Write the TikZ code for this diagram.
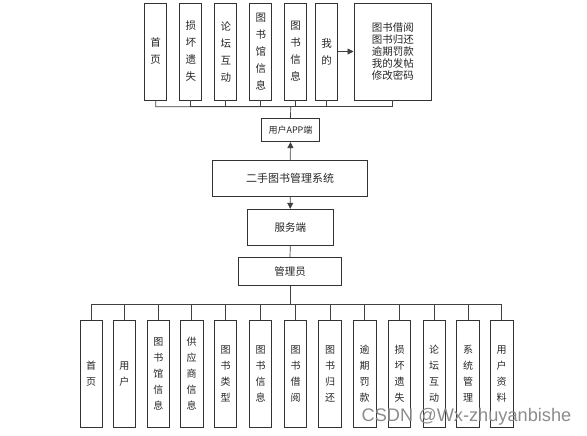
\documentclass[tikz,border=0pt]{standalone}
\usepackage{fontspec}
\newfontfamily\cjk{Noto Sans CJK SC}
\newfontfamily\wmfont{Liberation Sans}
\usetikzlibrary{arrows.meta}
\begin{document}
\begin{tikzpicture}[x=1pt,y=-1pt,
  box/.style={draw=black!80,line width=0.9pt,inner sep=0pt,text=black!85,align=center},
  topbox/.style={box,minimum width=22pt,minimum height=97pt,font=\cjk\fontsize{10.5}{17}\selectfont},
  botbox/.style={box,minimum width=22.5pt,minimum height=106.7pt,font=\cjk\fontsize{10}{16}\selectfont},
  midbox/.style={box,font=\cjk\fontsize{10.5}{12}\selectfont},
  link/.style={draw=black!75,line width=0.7pt},
  arr/.style={link,-{Triangle[length=6pt,width=6pt]}}]
  \useasboundingbox (0,0) rectangle (587,436);

  % user app side
  \node[topbox] (tShouye) at (155.7,51.5) {首\\页};
  \node[topbox] (tSunhuai) at (190.8,51.5) {损\\坏\\遗\\失};
  \node[topbox] (tLuntan) at (225.8,51.5) {论\\坛\\互\\动};
  \node[topbox] (tLibrary) at (260.8,51.5) {图\\书\\馆\\信\\息};
  \node[topbox] (tBookinfo) at (295.5,51.5) {图\\书\\信\\息};
  \node[topbox] (tMine) at (326.5,51.5) {我\\的};
  \node[box,minimum width=77.7pt,minimum height=97pt,font=\cjk\fontsize{10.5}{11.8}\selectfont]
    (tMineList) at (392.8,51.5) {图书借阅\\图书归还\\逾期罚款\\我的发帖\\修改密码};
  \draw[arr] (tMine.east) -- (tMineList.west);

  \node[midbox,minimum width=57.6pt,minimum height=22.7pt,font=\cjk\fontsize{9}{10}\selectfont]
    (app) at (290.5,130.3) {用户APP端};
  \coordinate (topbus) at (290.7,106.7);
  \draw[link] (tShouye.south) |- (topbus) -- (app.north);
  \draw[link] (tSunhuai.south) |- (topbus);
  \draw[link] (tLuntan.south) |- (topbus);
  \draw[link] (tLibrary.south) |- (topbus);
  \draw[link] (tBookinfo.south) |- (topbus);
  \draw[link] (tMine.south) |- (topbus);
  \draw[link] (tMineList.south) |- (topbus);

  % system core
  \node[midbox,minimum width=155pt,minimum height=36pt,font=\cjk\fontsize{11}{12}\selectfont]
    (sys) at (290.2,178.7) {二手图书管理系统};
  \node[midbox,minimum width=86pt,minimum height=36.4pt] (server) at (290.3,227.5) {服务端};
  \node[midbox,minimum width=103.4pt,minimum height=27.7pt] (admin) at (290,271.2) {管理员};
  \draw[arr] (sys.north) -- (app.south);
  \draw[arr] (sys.south) -- (server.north);
  \draw[link] (server.south) -- (admin.north);

  % admin side
  \node[botbox] (bShouye) at (91.2,374) {首\\页};
  \node[botbox] (bUser) at (124.3,374) {用\\户};
  \node[botbox] (bLibrary) at (158.3,374) {图\\书\\馆\\信\\息};
  \node[botbox] (bSupplier) at (191.7,374) {供\\应\\商\\信\\息};
  \node[botbox] (bType) at (225.5,374) {图\\书\\类\\型};
  \node[botbox] (bBookinfo) at (260.5,374) {图\\书\\信\\息};
  \node[botbox] (bBorrow) at (295.5,374) {图\\书\\借\\阅};
  \node[botbox] (bReturn) at (330,374) {图\\书\\归\\还};
  \node[botbox] (bFine) at (364.7,374) {逾\\期\\罚\\款};
  \node[botbox] (bSunhuai) at (399.5,374) {损\\坏\\遗\\失};
  \node[botbox] (bLuntan) at (434.2,374) {论\\坛\\互\\动};
  \node[botbox] (bSystem) at (468,374) {系\\统\\管\\理};
  \node[botbox] (bProfile) at (501.7,374) {用\\户\\资\\料};
  \coordinate (botbus) at (290,304);
  \draw[link] (admin.south) -- (botbus);
  \draw[link] (botbus) -| (bShouye.north);
  \draw[link] (botbus) -| (bUser.north);
  \draw[link] (botbus) -| (bLibrary.north);
  \draw[link] (botbus) -| (bSupplier.north);
  \draw[link] (botbus) -| (bType.north);
  \draw[link] (botbus) -| (bBookinfo.north);
  \draw[link] (botbus) -| (bBorrow.north);
  \draw[link] (botbus) -| (bReturn.north);
  \draw[link] (botbus) -| (bFine.north);
  \draw[link] (botbus) -| (bSunhuai.north);
  \draw[link] (botbus) -| (bLuntan.north);
  \draw[link] (botbus) -| (bSystem.north);
  \draw[link] (botbus) -| (bProfile.north);

  \node[text=black!45,font=\wmfont\fontsize{18.2}{18.2}\selectfont,anchor=west,inner sep=0pt]
    (watermark) at (361.5,416.5) {CSDN @Wx-zhuyanbishe};
\end{tikzpicture}
\end{document}
